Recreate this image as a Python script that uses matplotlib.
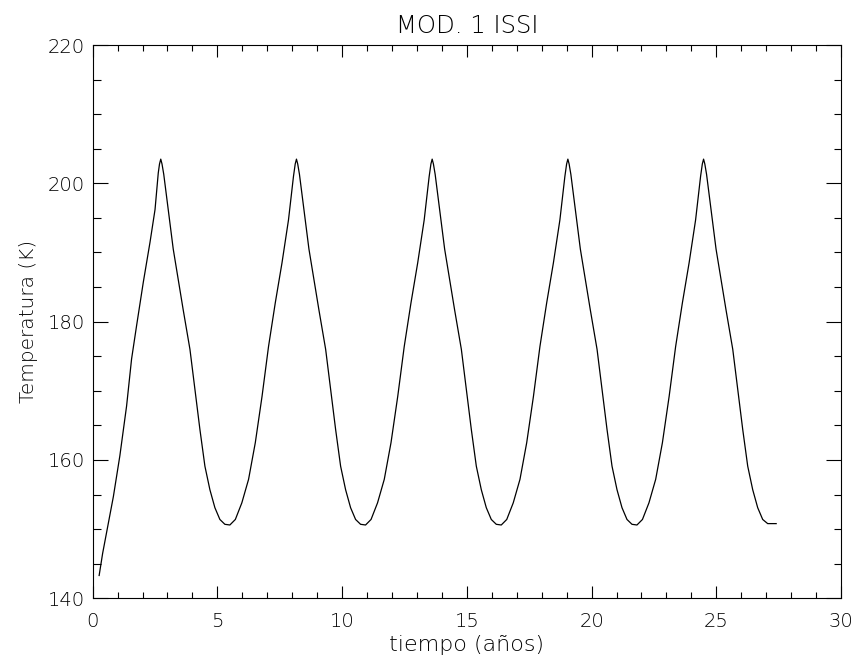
import matplotlib
matplotlib.use("Agg")
import matplotlib.pyplot as plt
from matplotlib.ticker import MultipleLocator

# tiempo (años) and temperatura (K)
tiempo = [0.26, 0.40, 0.63, 0.83, 1.09, 1.36, 1.56, 1.76, 2.03, 2.30, 2.50, 2.63, 2.68, 2.73,
          2.78, 2.85, 3.03, 3.23, 3.43, 3.63, 3.90, 4.10, 4.30, 4.50, 4.70, 4.90, 5.10, 5.30, 5.50,
          5.72, 5.98, 6.25, 6.52, 6.79, 7.05, 7.32, 7.59, 7.85, 8.05, 8.12, 8.17,
          8.22, 8.29, 8.47, 8.67, 8.87, 9.07, 9.34, 9.54, 9.74, 9.94, 10.14, 10.34, 10.54, 10.74, 10.94,
          11.16, 11.42, 11.69, 11.96, 12.23, 12.49, 12.76, 13.03, 13.29, 13.49, 13.56, 13.61,
          13.66, 13.73, 13.91, 14.11, 14.31, 14.51, 14.78, 14.98, 15.18, 15.38, 15.58, 15.78, 15.98, 16.18, 16.38,
          16.60, 16.86, 17.13, 17.40, 17.67, 17.93, 18.20, 18.47, 18.73, 18.93, 19.00, 19.05,
          19.10, 19.17, 19.35, 19.55, 19.75, 19.95, 20.22, 20.42, 20.62, 20.82, 21.02, 21.22, 21.42, 21.62, 21.82,
          22.04, 22.30, 22.57, 22.84, 23.11, 23.37, 23.64, 23.91, 24.17, 24.37, 24.44, 24.49,
          24.54, 24.61, 24.79, 24.99, 25.19, 25.39, 25.66, 25.86, 26.06, 26.26, 26.46, 26.66, 26.86, 27.06, 27.26,
          27.40]

temperatura = [143.3, 146.5, 150.9, 154.7, 160.6, 167.8, 174.6, 179.4, 185.7, 191.5, 196.2, 201.5, 202.8, 203.5,
               202.8, 201.3, 196.2, 190.5, 186.1, 181.7, 176.0, 170.2, 164.4, 159.1, 155.7, 153.1, 151.4, 150.7, 150.6,
               151.4, 153.8, 157.2, 162.5, 169.2, 176.4, 182.7, 188.5, 194.7, 201.0, 202.8, 203.5,
               202.8, 201.3, 196.2, 190.5, 186.1, 181.7, 176.0, 170.2, 164.4, 159.1, 155.7, 153.1, 151.4, 150.7, 150.6,
               151.4, 153.8, 157.2, 162.5, 169.2, 176.4, 182.7, 188.5, 194.7, 201.0, 202.8, 203.5,
               202.8, 201.3, 196.2, 190.5, 186.1, 181.7, 176.0, 170.2, 164.4, 159.1, 155.7, 153.1, 151.4, 150.7, 150.6,
               151.4, 153.8, 157.2, 162.5, 169.2, 176.4, 182.7, 188.5, 194.7, 201.0, 202.8, 203.5,
               202.8, 201.3, 196.2, 190.5, 186.1, 181.7, 176.0, 170.2, 164.4, 159.1, 155.7, 153.1, 151.4, 150.7, 150.6,
               151.4, 153.8, 157.2, 162.5, 169.2, 176.4, 182.7, 188.5, 194.7, 201.0, 202.8, 203.5,
               202.8, 201.3, 196.2, 190.5, 186.1, 181.7, 176.0, 170.2, 164.4, 159.1, 155.7, 153.1, 151.4, 150.8, 150.8,
               150.8]

titulo = "MOD. 1 ISSI"

# thin lettering, closer to the IDL vector font
plt.rcParams["font.weight"] = "light"
plt.rcParams["axes.titleweight"] = "light"
plt.rcParams["axes.labelweight"] = "light"

fig = plt.figure(figsize=(8.54, 6.59), dpi=100)
ax = fig.add_axes([0.1085, 0.0921, 0.8763, 0.8396])

ax.plot(tiempo, temperatura, color="black", lw=0.9)

ax.set_xlim(0, 30)
ax.set_ylim(140, 220)
ax.xaxis.set_major_locator(MultipleLocator(5))
ax.xaxis.set_minor_locator(MultipleLocator(1))
ax.yaxis.set_major_locator(MultipleLocator(20))
ax.yaxis.set_minor_locator(MultipleLocator(5))

ax.tick_params(axis="both", which="both", direction="in", top=True, right=True,
               width=0.8, colors="black", labelsize=14)
ax.tick_params(axis="x", which="major", length=8.3, pad=10)
ax.tick_params(axis="x", which="minor", length=4.2)
ax.tick_params(axis="y", which="major", length=10.8, pad=5.5)
ax.tick_params(axis="y", which="minor", length=5.4)

for s in ax.spines.values():
    s.set_linewidth(0.8)

ax.set_xlabel("tiempo (años)", fontsize=16, labelpad=2.5)
ax.set_ylabel("Temperatura (K)", fontsize=14.5, labelpad=7)
ax.set_title(titulo, fontsize=17.5, pad=8.5)

fig.savefig("out.png", dpi=100)
